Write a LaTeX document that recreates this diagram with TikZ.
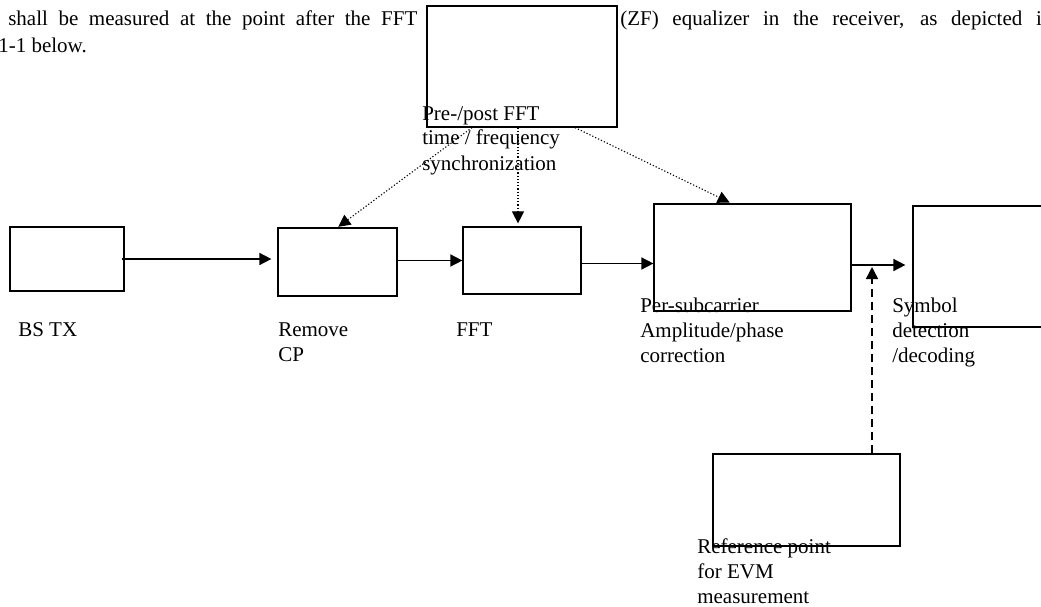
\documentclass[tikz,border=0pt]{standalone}
\usepackage{fontspec}
\setmainfont{Liberation Serif}
\usetikzlibrary{arrows.meta}

\begin{document}
\begin{tikzpicture}[
            x = 1pt, y = -1pt, % one unit per pixel, y runs down
            > = {Triangle[length=12pt,width=12pt]}, % arrow head style
            font = \fontsize{21}{25}\selectfont,
            semithick, % line style
        ]

        \tikzstyle{box}=[
            draw = black,
            line width = 1.2pt,
            rectangle,
            inner sep = 0pt
        ]
        \tikzstyle{lbl}=[
            anchor = base west, % base of the last line
            align = left,
            inner sep = 0pt
        ]
        \tikzstyle{flow}=[->, line width = 1.6pt]
        \tikzstyle{syncline}=[->, line width = 1.1pt, dash pattern = on 1.2pt off 2pt]
        \tikzstyle{refline}=[->, line width = 1.5pt, dash pattern = on 8pt off 5pt]

        \useasboundingbox (0,0) rectangle (1041,607);
        \clip (0,0) rectangle (1041,607);

        % page text round the figure
        \node[lbl] (para1) at (8,26) {\makebox[409pt][s]{shall be measured at the point after the FFT}};
        \node[lbl] (para2) at (620,26) {\makebox[432pt][s]{(ZF) equalizer in the receiver, as depicted in}};
        \node[lbl] (para3) at (-2,53) {1-1 below.};

        \node[box, minimum width=190pt, minimum height=121pt] (sync) at (522,66.5) {};
        \node[box, minimum width=114pt, minimum height=64pt] (bstx) at (67,259) {};
        \node[box, minimum width=119pt, minimum height=68pt] (rmcp) at (337.5,262) {};
        \node[box, minimum width=118pt, minimum height=67pt] (fft) at (522,260.5) {};
        \node[box, minimum width=197pt, minimum height=107pt] (amp) at (752.5,257.5) {};
        \node[box, minimum width=157pt, minimum height=121pt] (sym) at (991.5,266.5) {};
        \node[box, minimum width=187pt, minimum height=92pt] (evm) at (806.5,500) {};
        \coordinate (refpt) at (872,265);

        \node[lbl] (bstxlbl) at (18,336) {BS TX};
        \node[lbl] (rmcplbl) at (278,361) {Remove\\CP};
        \node[lbl] (fftlbl) at (456,336) {FFT};
        \node[lbl] (amplbl) at (640,362) {Per-subcarrier\\Amplitude/phase\\correction};
        \node[lbl] (symlbl) at (892,362) {Symbol\\detection\\/decoding};
        \node[lbl] (synclbl) at (422,170) {Pre-/post FFT\\time / frequency\\synchronization};
        \node[lbl] (evmlbl) at (697,603) {Reference point\\for EVM\\measurement};

        \draw[flow, shorten >=6pt] ([xshift=-3pt]bstx.east) -- (rmcp.west |- bstx.east);
        \draw[flow] (rmcp.east |- fft.west) -- (fft.west);
        \draw[flow] ([yshift=-3pt]fft.east) -- ([yshift=-6pt]amp.west);
        \draw[flow, shorten >=7pt] (amp.east |- refpt) -- (sym.west |- refpt);
        \draw[refline, shorten >=2pt] (evm.north -| refpt) -- (refpt);

        \draw[syncline, shorten >=1pt] ([xshift=-50pt]sync.south) -- (rmcp.north);
        \draw[syncline, shorten >=3pt] ([xshift=-4pt]sync.south) -- ([xshift=-4pt]fft.north);
        \draw[syncline, shorten >=2pt] ([xshift=53pt]sync.south) -- ([xshift=-21pt]amp.north);
    \end{tikzpicture}
\end{document}
